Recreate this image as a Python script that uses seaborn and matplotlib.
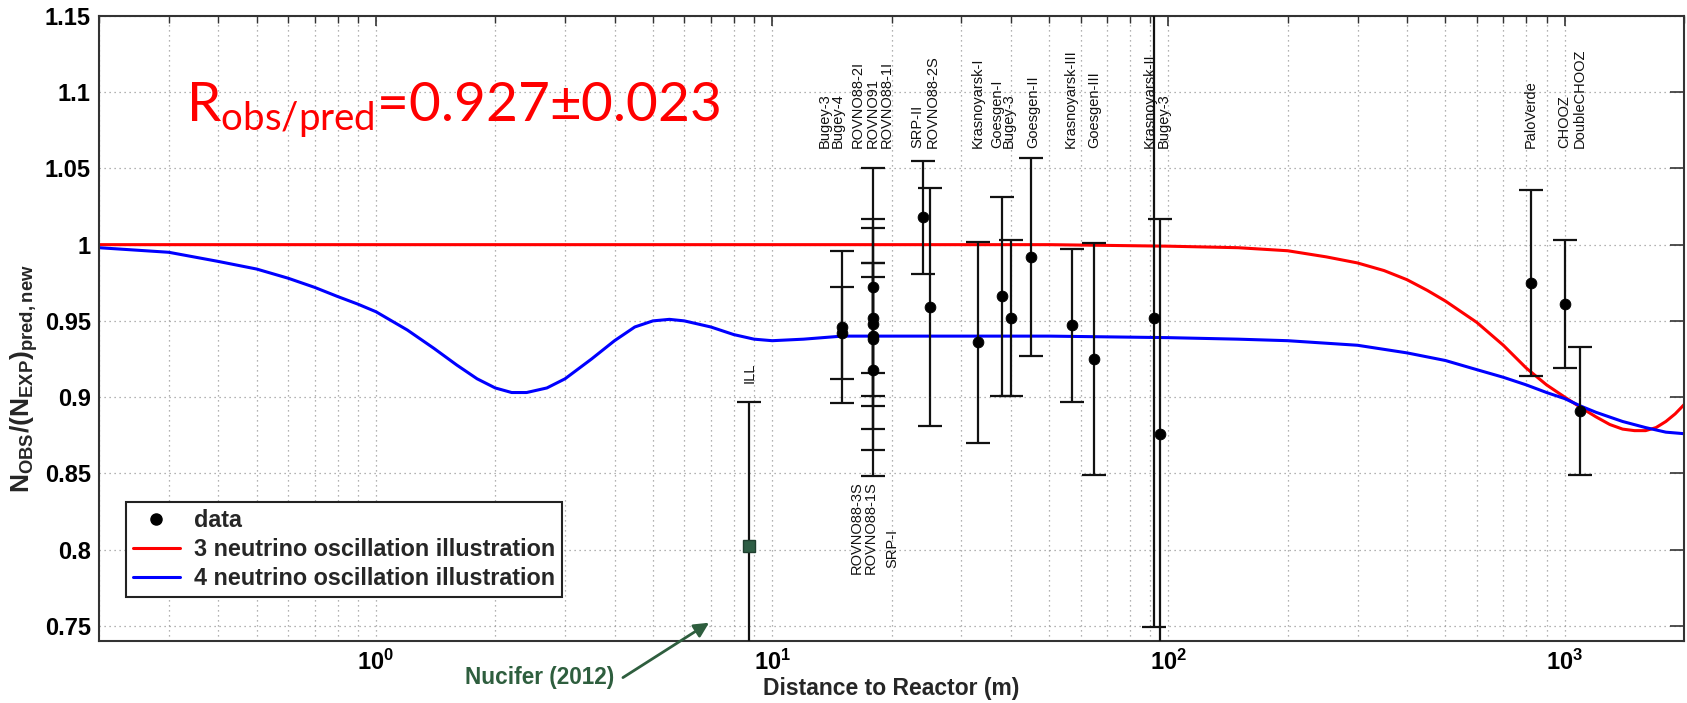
import numpy as np
import pandas as pd
import matplotlib
matplotlib.use("Agg")
import matplotlib.pyplot as plt
import seaborn as sns
from matplotlib.lines import Line2D
from matplotlib.ticker import FixedLocator, LogLocator, NullFormatter

# ---------------- data ----------------
names = ["Bugey-4", "Bugey-3", "ROVNO91", "ROVNO88-1I", "ROVNO88-2I", "ROVNO88-1S",
         "ROVNO88-3S", "SRP-I", "SRP-II", "ROVNO88-2S", "Krasnoyarsk-I", "Goesgen-I",
         "Bugey-3", "Goesgen-II", "Krasnoyarsk-III", "Goesgen-III", "Krasnoyarsk-II",
         "Bugey-3", "PaloVerde", "CHOOZ", "DoubleCHOOZ"]
distance_m = [15, 15, 18, 18, 18, 18, 18, 18, 24, 25, 33, 38, 40, 45, 57, 65, 92, 95, 820, 1000, 1090]
ratio = [0.942, 0.946, 0.940, 0.918, 0.948, 0.972, 0.938, 0.952, 1.018, 0.959, 0.936, 0.966,
         0.952, 0.992, 0.947, 0.925, 0.952, 0.876, 0.975, 0.961, 0.891]
error = [0.030, 0.050, 0.039, 0.070, 0.069, 0.078, 0.073, 0.036, 0.037, 0.078, 0.066, 0.065,
         0.051, 0.065, 0.050, 0.076, 0.203, 0.141, 0.061, 0.042, 0.042]

ill_distance = [8.76]
ill_ratio = [0.802]
ill_error = [0.095]

# 3-neutrino illustration curve
curve3_d = [0.2, 1, 10, 50, 100, 150, 200, 250, 300, 350, 400, 450, 500, 600, 700, 800, 900,
            1000, 1100, 1200, 1300, 1400, 1500, 1600, 1700, 1800, 1900, 2000]
curve3_v = [1.000, 1.000, 1.000, 1.000, 0.999, 0.998, 0.996, 0.992, 0.988, 0.983, 0.977, 0.970,
            0.963, 0.949, 0.934, 0.919, 0.908, 0.900, 0.893, 0.887, 0.882, 0.879, 0.878, 0.878,
            0.880, 0.884, 0.889, 0.895]

# 4-neutrino illustration curve
curve4_d = [0.2, 0.3, 0.4, 0.5, 0.6, 0.7, 0.8, 0.9, 1.0, 1.2, 1.4, 1.6, 1.8, 2.0, 2.2, 2.4, 2.7,
            3.0, 3.5, 4.0, 4.5, 5.0, 5.5, 6.0, 7.0, 8.0, 9.0, 10, 12, 15, 20, 30, 50, 100, 150,
            200, 300, 400, 500, 600, 700, 800, 900, 1000, 1100, 1200, 1400, 1600, 1800, 2000]
curve4_v = [0.998, 0.995, 0.989, 0.984, 0.978, 0.972, 0.966, 0.961, 0.956, 0.944, 0.932, 0.921,
            0.912, 0.906, 0.903, 0.903, 0.906, 0.912, 0.925, 0.937, 0.946, 0.950, 0.951, 0.950,
            0.946, 0.941, 0.938, 0.937, 0.938, 0.940, 0.940, 0.940, 0.940, 0.939, 0.938, 0.937,
            0.934, 0.929, 0.924, 0.918, 0.913, 0.908, 0.903, 0.899, 0.894, 0.890, 0.884, 0.880,
            0.877, 0.876]

ytick_values = [0.75, 0.80, 0.85, 0.90, 0.95, 1.00, 1.05, 1.10, 1.15]
ytick_labels = ["0.75", "0.8", "0.85", "0.9", "0.95", "1", "1.05", "1.1", "1.15"]
xtick_values = [1, 10, 100, 1000]
xtick_labels = [r"$\mathbf{10^{0}}$", r"$\mathbf{10^{1}}$", r"$\mathbf{10^{2}}$", r"$\mathbf{10^{3}}$"]

# experiment name labels (stacked names share one label block)
top_label_text = ["Bugey-3\nBugey-4", "ROVNO88-2I\nROVNO91\nROVNO88-1I", "SRP-II\nROVNO88-2S",
                  "Krasnoyarsk-I", "Goesgen-I\nBugey-3", "Goesgen-II", "Krasnoyarsk-III",
                  "Goesgen-III", "Krasnoyarsk-II", "Bugey-3", "PaloVerde", "CHOOZ",
                  "DoubleCHOOZ"]
top_label_x = [14.1, 17.9, 24.3, 33.0, 38.2, 45.7, 56.8, 65.0, 89.5, 97.5, 820, 1000, 1090]
top_label_spacing = [0.85, 1.05, 1.05, 1.0, 0.8, 1.0, 1.0, 1.0, 1.0, 1.0, 1.0, 1.0, 1.0]
bottom_label_text = ["ROVNO88-3S\nROVNO88-1S", "SRP-I"]
bottom_label_x = [17.0, 20.1]
bottom_label_y = [0.8446, 0.8005]

# ---------------- figure ----------------
sns.set_theme(style="white")
plt.rcParams["font.family"] = ["Liberation Sans", "DejaVu Sans"]
plt.rcParams["mathtext.fontset"] = "custom"
plt.rcParams["mathtext.bf"] = "Liberation Sans:bold"
plt.rcParams["mathtext.rm"] = "Liberation Sans"
plt.rcParams["mathtext.sf"] = "Lato"

fig = plt.figure(figsize=(16.87, 7.03), dpi=100)
ax = fig.add_axes([99 / 1687, 1 - 641 / 703, 1585 / 1687, 625 / 703])
ax.set_xscale("log")
ax.set_xlim(0.2, 2000)
ax.set_ylim(0.74, 1.15)

# grid
ax.grid(True, which="both", axis="x", linestyle=(0, (1, 3)), color="#999999", linewidth=0.9)
ax.grid(True, which="major", axis="y", linestyle=(0, (1, 3)), color="#999999", linewidth=0.9)
ax.set_axisbelow(True)

# curves
df3 = pd.DataFrame({"d": curve3_d, "v": curve3_v})
df4 = pd.DataFrame({"d": curve4_d, "v": curve4_v})
sns.lineplot(data=df3, x="d", y="v", color="#ff0000", linewidth=2.2, ax=ax, estimator=None, sort=False)
sns.lineplot(data=df4, x="d", y="v", color="#0000ff", linewidth=2.2, ax=ax, estimator=None, sort=False)

# data with error bars
ax.errorbar(distance_m, ratio, yerr=error, fmt="none", ecolor="#111111", elinewidth=1.6,
            capsize=8.3, capthick=1.6, zorder=4)
dfp = pd.DataFrame({"d": distance_m, "r": ratio})
sns.scatterplot(data=dfp, x="d", y="r", color="black", s=60, edgecolor="black", ax=ax, zorder=5)

ax.errorbar(ill_distance, ill_ratio, yerr=ill_error, fmt="none", ecolor="#111111",
            elinewidth=1.6, capsize=8.3, capthick=1.6, zorder=4)
ax.plot(ill_distance, ill_ratio, marker="s", markersize=8, color="#2e5e45",
        markeredgecolor="#1f3f2f", linestyle="none", zorder=5)

# experiment labels
lab_fs = 10.5
for t, x, ls in zip(top_label_text, top_label_x, top_label_spacing):
    ax.text(x, 1.0635, t, rotation=90, ha="center", va="bottom", fontsize=lab_fs,
            color="#111111", multialignment="left", linespacing=ls)
ax.text(bottom_label_x[0], bottom_label_y[0], bottom_label_text[0], rotation=90, ha="center",
        va="top", fontsize=lab_fs, color="#111111", multialignment="left", linespacing=0.95)
ax.text(bottom_label_x[1], bottom_label_y[1], bottom_label_text[1], rotation=90, ha="center",
        va="center", fontsize=lab_fs, color="#111111")
ax.text(8.76, 0.909, "ILL", rotation=90, ha="center", va="bottom", fontsize=lab_fs, color="#111111")

# big red annotation
ax.text(0.331, 1.0805, r"R$_{\mathsf{obs/pred}}$=0.927±0.023", color="#ff0000",
        fontsize=39.5, family="Lato", ha="left", va="baseline")

# Nucifer annotation
ax.text(3.99, 0.716, "Nucifer (2012)", color="#2e5e3e", fontsize=16.3, fontweight="bold",
        ha="right", va="center", clip_on=False)
ax.annotate("", xy=(6.93, 0.752), xytext=(4.2, 0.716), xycoords="data", textcoords="data",
            arrowprops=dict(arrowstyle="-|>", color="#2e5e3e", lw=2, mutation_scale=22,
                            shrinkA=0, shrinkB=0), annotation_clip=False)

# axes styling
ax.xaxis.set_major_locator(FixedLocator(xtick_values))
ax.set_xticklabels(xtick_labels)
ax.xaxis.set_minor_locator(LogLocator(base=10, subs=np.arange(2, 10)))
ax.xaxis.set_minor_formatter(NullFormatter())
ax.set_yticks(ytick_values)
ax.set_yticklabels(ytick_labels, fontweight="bold")
ax.tick_params(axis="both", which="both", direction="in", top=True, right=True,
               colors="#333333", labelcolor="black", labelsize=17)
ax.tick_params(axis="y", which="major", length=10, width=1.2, pad=6)
ax.tick_params(axis="x", which="major", length=7, width=1.2, pad=6)
ax.tick_params(axis="x", which="minor", length=5, width=1.0)
for sp in ax.spines.values():
    sp.set_color("#333333")
    sp.set_linewidth(1.5)

ax.set_xlabel("Distance to Reactor (m)", fontsize=16.5, fontweight="bold")
ax.xaxis.set_label_coords(0.5, -0.057)
ax.set_ylabel(r"$\mathbf{N_{OBS}/(N_{EXP})_{pred,new}}$", fontsize=19)
ax.yaxis.set_label_coords(-0.037, 0.42)

# legend
handles = [
    Line2D([], [], marker="o", color="black", linestyle="none", markersize=8),
    Line2D([], [], color="#ff0000", linewidth=2.2),
    Line2D([], [], color="#0000ff", linewidth=2.2),
]
labels = ["data", "3 neutrino oscillation illustration", "4 neutrino oscillation illustration"]
leg = ax.legend(handles, labels, loc="lower left", bbox_to_anchor=(0.017, 0.0704),
                borderaxespad=0, frameon=True, fancybox=False, framealpha=1,
                edgecolor="#222222", prop={"weight": "bold", "size": 16.8},
                handlelength=2.0, handletextpad=0.6, labelspacing=0.25, borderpad=0.3)
leg.get_frame().set_linewidth(1.5)

fig.savefig("out.png", dpi=100)
